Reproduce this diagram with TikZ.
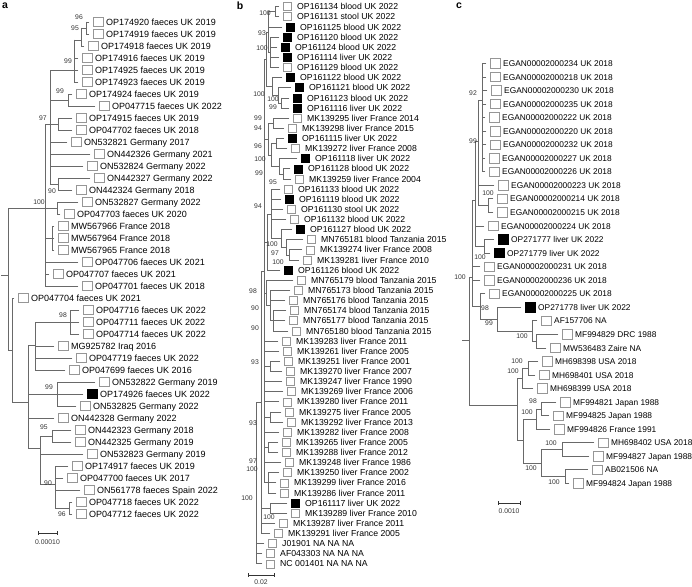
\documentclass[tikz,border=0pt]{standalone}
\usepackage{fontspec}
\newfontfamily\lsans{Liberation Sans}
\definecolor{brc}{RGB}{105,105,105}
\definecolor{bxc}{RGB}{150,150,150}
\newcounter{lfc}
\newcounter{bsc}
\def\bsz{9}\def\txo{13}\def\fsz{8.2}
\newcommand{\hln}[3]{\draw[br] (#1,#3) -- (#2,#3);}
\newcommand{\vln}[3]{\draw[br] (#1,#2) -- (#1,#3);}
\newcommand{\leafn}[5]{%
  \stepcounter{lfc}%
  \pgfmathsetmacro\tipx{#3-4}%
  \draw[br] (#1,#2) -- (\tipx,#2);
  \node[#5] (bx\arabic{lfc}) at (#3,#2) {};
  \node[lab] (tx\arabic{lfc}) at (#3+\txo,#2+3.1) {#4};}
\newcommand{\bsv}[3]{\stepcounter{bsc}\node[bsl] (bs\arabic{bsc}) at (#1,#2) {#3};}
\begin{document}
\begin{tikzpicture}[x=1pt,y=-1pt,
  br/.style={draw=brc, line width=0.8pt, line cap=rect},
  ob/.style={draw=bxc, line width=0.6pt, minimum size=\bsz pt, inner sep=0pt, anchor=west},
  fb/.style={ob, fill=black, draw=black},
  lab/.style={font=\lsans\fontsize{\fsz}{\fsz}\selectfont, anchor=base west, inner sep=0pt},
  bsl/.style={font=\lsans\fontsize{6.8}{7.5}\selectfont, inner sep=0pt, text=black!80},
  sb/.style={draw=black!80, line width=0.7pt},
  pl/.style={font=\lsans\bfseries\fontsize{10.5}{11}\selectfont, inner sep=0pt}]
\useasboundingbox (0,0) rectangle (692,586);
% ================= panel a =================
\node[pl] (pla) at (5,6) {a};
\def\bsz{9.5}\def\txo{13}\def\fsz{9.0}
\hln{1}{8}{275}
\vln{8}{208}{350}
\hln{8}{45}{208}
\vln{45}{124}{286}
\hln{45}{50}{124}
\vln{50}{70}{184}
\hln{50}{74}{70}
\vln{74}{40}{82}
\hln{74}{81}{40}
\vln{81}{28}{46}
\hln{81}{86}{28}
\vln{86}{22}{34}
\leafn{86}{22}{93}{OP174920 faeces UK 2019}{ob}
\leafn{86}{34}{93}{OP174919 faeces UK 2019}{ob}
\leafn{81}{46}{88}{OP174918 faeces UK 2019}{ob}
\leafn{74}{58}{82}{OP174916 faeces UK 2019}{ob}
\leafn{74}{70}{82}{OP174925 faeces UK 2019}{ob}
\leafn{74}{82}{82}{OP174923 faeces UK 2019}{ob}
\hln{50}{68}{100}
\vln{68}{94}{106}
\leafn{68}{94}{76}{OP174924 faeces UK 2019}{ob}
\leafn{68}{106}{99}{OP047715 faeces UK 2022}{ob}
\hln{50}{58}{124}
\vln{58}{118}{130}
\leafn{58}{118}{76}{OP174915 faeces UK 2019}{ob}
\leafn{58}{130}{76}{OP047702 faeces UK 2018}{ob}
\leafn{50}{142}{71}{ON532821 Germany 2017}{ob}
\leafn{50}{154}{94}{ON442326 Germany 2021}{ob}
\leafn{50}{166}{87}{ON532824 Germany 2022}{ob}
\hln{50}{58}{184}
\vln{58}{178}{190}
\leafn{58}{178}{94}{ON442327 Germany 2022}{ob}
\leafn{58}{190}{76}{ON442324 Germany 2018}{ob}
\hln{45}{57}{208}
\vln{57}{202}{214}
\leafn{57}{202}{82}{ON532827 Germany 2022}{ob}
\leafn{57}{214}{64}{OP047703 faeces UK 2020}{ob}
\hln{45}{52}{238}
\vln{52}{226}{250}
\leafn{52}{226}{58}{MW567966 France 2018}{ob}
\leafn{52}{238}{58}{MW567964 France 2018}{ob}
\leafn{52}{250}{58}{MW567965 France 2018}{ob}
\leafn{45}{262}{82}{OP047706 faeces UK 2021}{ob}
\leafn{45}{274}{53}{OP047707 faeces UK 2021}{ob}
\leafn{45}{286}{82}{OP047701 faeces UK 2018}{ob}
\hln{8}{12}{350}
\vln{12}{298}{402}
\leafn{12}{298}{18}{OP047704 faeces UK 2021}{ob}
\hln{12}{28}{402}
\vln{28}{345}{448}
\hln{28}{35}{345}
\vln{35}{322}{370}
\hln{35}{70}{322}
\vln{70}{310}{334}
\leafn{70}{310}{83}{OP047716 faeces UK 2022}{ob}
\leafn{70}{322}{83}{OP047711 faeces UK 2022}{ob}
\leafn{70}{334}{83}{OP047714 faeces UK 2022}{ob}
\leafn{35}{346}{58}{MG925782 Iraq 2016}{ob}
\leafn{35}{358}{76}{OP047719 faeces UK 2022}{ob}
\leafn{35}{370}{69}{OP047699 faeces UK 2016}{ob}
\hln{28}{57}{394}
\vln{57}{382}{406}
\leafn{57}{382}{99}{ON532822 Germany 2019}{ob}
\leafn{57}{394}{87}{OP174926 faeces UK 2022}{fb}
\leafn{57}{406}{80}{ON532825 Germany 2022}{ob}
\leafn{28}{418}{58}{ON442328 Germany 2022}{ob}
\hln{28}{40}{448}
\vln{40}{436}{484}
\hln{40}{52}{436}
\vln{52}{430}{442}
\leafn{52}{430}{75}{ON442323 Germany 2018}{ob}
\leafn{52}{442}{75}{ON442325 Germany 2019}{ob}
\leafn{40}{454}{87}{ON532823 Germany 2019}{ob}
\hln{40}{55}{484}
\vln{55}{466}{508}
\leafn{55}{466}{72}{OP174917 faeces UK 2019}{ob}
\leafn{55}{478}{67}{OP047700 faeces UK 2017}{ob}
\leafn{55}{490}{84}{ON561778 faeces Spain 2022}{ob}
\hln{55}{69}{508}
\vln{69}{502}{514}
\leafn{69}{502}{76}{OP047718 faeces UK 2022}{ob}
\leafn{69}{514}{76}{OP047712 faeces UK 2022}{ob}
\bsv{79}{17}{96}\bsv{75}{28}{95}\bsv{68}{61}{99}\bsv{60}{91}{99}
\bsv{43}{118}{97}\bsv{52}{191}{90}\bsv{39}{202}{100}\bsv{63}{315}{98}
\bsv{49}{387}{99}\bsv{44}{427}{95}\bsv{48}{483}{90}\bsv{62}{514}{96}
\draw[sb] (38,531) -- (38,535) (38,533) -- (57,533) (57,531) -- (57,535);
\node[bsl] (sba) at (47.5,542) {0.00010};
% ================= panel b =================
\node[pl] (plb) at (240,6) {b};
\def\bsz{8}\def\txo{14}\def\fsz{8.7}
\vln{256}{402}{563.8}
\leafn{256}{543.6}{268}{J01901 NA NA NA}{ob}
\leafn{256}{553.7}{266}{AF043303 NA NA NA}{ob}
\leafn{256}{563.8}{266}{NC 001401 NA NA NA}{ob}
\hln{256}{261}{402}
\vln{261}{271}{533.5}
\hln{261}{270}{508.2}
\vln{270}{503.1}{513.2}
\leafn{270}{503.1}{291}{OP161117 liver UK 2022}{fb}
\leafn{270}{513.2}{291}{MK139289 liver France 2010}{ob}
\leafn{261}{523.3}{279}{MK139287 liver France 2011}{ob}
\leafn{261}{533.5}{274}{MK139291 liver France 2005}{ob}
\hln{261}{264}{271}
\vln{264}{59}{482.8}
% G1
\vln{275}{6.7}{16.8}
\leafn{275}{6.7}{283}{OP161134 blood UK 2022}{ob}
\leafn{275}{16.8}{283}{OP161131 stool UK 2022}{ob}
\vln{268}{11.8}{52.3}
\hln{268}{275}{11.8}
\leafn{268}{27.0}{286}{OP161125 blood UK 2022}{fb}
\hln{268}{270}{52.3}
\vln{270}{37.1}{67.5}
\leafn{270}{37.1}{283}{OP161120 blood UK 2022}{fb}
\leafn{270}{47.2}{281}{OP161124 blood UK 2022}{fb}
\leafn{270}{57.4}{283}{OP161114 liver UK 2022}{fb}
\leafn{270}{67.5}{283}{OP161129 blood UK 2022}{ob}
\vln{266}{32}{86}
\hln{266}{268}{32}
\hln{266}{272}{86}
\hln{264}{266}{59}
\vln{272}{77.6}{95}
\leafn{272}{77.6}{286}{OP161122 blood UK 2022}{fb}
\hln{272}{278}{95}
\vln{278}{87.7}{103}
\leafn{278}{87.7}{295}{OP161121 blood UK 2022}{fb}
\hln{278}{281}{103}
\vln{281}{97.9}{108.0}
\leafn{281}{97.9}{293}{OP161123 blood UK 2022}{fb}
\leafn{281}{108.0}{293}{OP161116 liver UK 2022}{fb}
% F
\vln{273}{118.1}{128.3}
\leafn{273}{118.1}{293}{MK139295 liver France 2014}{ob}
\leafn{273}{128.3}{288}{MK139298 liver France 2015}{ob}
\vln{276}{138.4}{148.5}
\leafn{276}{138.4}{288}{OP161115 liver UK 2022}{fb}
\leafn{276}{148.5}{291}{MK139272 liver France 2008}{ob}
\vln{279}{158.7}{173.9}
\leafn{279}{158.7}{301}{OP161118 liver UK 2022}{fb}
\hln{279}{283}{173.9}
\vln{283}{168.8}{178.9}
\leafn{283}{168.8}{294}{OP161128 blood UK 2022}{fb}
\leafn{283}{178.9}{295}{MK139259 liver France 2004}{ob}
\vln{271}{143.5}{166.3}
\hln{271}{276}{143.5}
\hln{271}{279}{166.3}
\vln{268}{123.2}{155}
\hln{268}{273}{123.2}
\hln{268}{271}{155}
\hln{264}{268}{139}
% H
\vln{271}{189.0}{238.5}
\leafn{271}{189.0}{284}{OP161133 blood UK 2022}{ob}
\leafn{271}{199.2}{285}{OP161119 blood UK 2022}{fb}
\leafn{271}{209.3}{287}{OP161130 stool UK 2022}{ob}
\leafn{271}{219.4}{290}{OP161132 blood UK 2022}{ob}
\hln{271}{281}{238.5}
\vln{281}{229.6}{247.3}
\leafn{281}{229.6}{296}{OP161127 blood UK 2022}{fb}
\hln{281}{286}{247.3}
\vln{286}{239.7}{254.9}
\leafn{286}{239.7}{307}{MN765181 blood Tanzania 2015}{ob}
\hln{286}{289}{254.9}
\vln{289}{249.8}{260.0}
\leafn{289}{249.8}{306}{MK139274 liver France 2008}{ob}
\leafn{289}{260.0}{303}{MK139281 liver France 2010}{ob}
\vln{267}{214}{270.1}
\hln{267}{271}{214}
\leafn{267}{270.1}{284}{OP161126 blood UK 2022}{fb}
\hln{264}{267}{242}
% J
\vln{266}{280.2}{305.5}
\leafn{266}{280.2}{297}{MN765179 blood Tanzania 2015}{ob}
\hln{266}{270}{305.5}
\vln{270}{290.3}{320.7}
\leafn{270}{290.3}{294}{MN765173 blood Tanzania 2015}{ob}
\leafn{270}{300.5}{289}{MN765176 blood Tanzania 2015}{ob}
\hln{270}{273}{320.7}
\vln{273}{310.6}{330.9}
\leafn{273}{310.6}{290}{MN765174 blood Tanzania 2015}{ob}
\leafn{273}{320.7}{289}{MN765177 blood Tanzania 2015}{ob}
\leafn{273}{330.9}{292}{MN765180 blood Tanzania 2015}{ob}
\hln{264}{266}{292.9}
% French comb
\leafn{264}{341.0}{282}{MK139283 liver France 2011}{ob}
\leafn{264}{351.1}{283}{MK139261 liver France 2005}{ob}
\hln{264}{270}{366.4}
\vln{270}{361.3}{371.4}
\leafn{270}{361.3}{284}{MK139251 liver France 2001}{ob}
\leafn{270}{371.4}{286}{MK139270 liver France 2007}{ob}
\leafn{264}{381.5}{286}{MK139247 liver France 1990}{ob}
\leafn{264}{391.6}{287}{MK139269 liver France 2006}{ob}
\leafn{264}{401.8}{283}{MK139280 liver France 2011}{ob}
\hln{264}{270}{417}
\vln{270}{411.9}{422.0}
\leafn{270}{411.9}{285}{MK139275 liver France 2005}{ob}
\leafn{270}{422.0}{287}{MK139292 liver France 2013}{ob}
\leafn{264}{432.2}{283}{MK139282 liver France 2008}{ob}
\hln{264}{268}{447.4}
\vln{268}{442.3}{452.4}
\leafn{268}{442.3}{282}{MK139265 liver France 2005}{ob}
\leafn{268}{452.4}{282}{MK139288 liver France 2012}{ob}
\leafn{264}{462.5}{285}{MK139248 liver France 1986}{ob}
\hln{264}{268}{482.8}
\vln{268}{472.7}{492.9}
\leafn{268}{472.7}{283}{MK139250 liver France 2002}{ob}
\leafn{268}{482.8}{280}{MK139299 liver France 2016}{ob}
\leafn{268}{492.9}{280}{MK139286 liver France 2011}{ob}
\bsv{265}{13}{100}\bsv{262}{33}{93}\bsv{262}{48}{100}\bsv{259}{94}{100}
\bsv{273}{99}{100}\bsv{273}{107}{99}\bsv{258}{118}{99}\bsv{258}{128}{94}
\bsv{258}{146}{96}\bsv{260}{159}{100}\bsv{259}{173}{99}\bsv{273}{182}{95}
\bsv{258}{206}{94}\bsv{272}{244}{100}\bsv{275}{253}{97}\bsv{278}{262}{100}
\bsv{253}{291}{98}\bsv{255}{308}{90}\bsv{255}{328}{90}\bsv{255}{362}{93}
\bsv{253}{423}{93}\bsv{253}{461}{97}\bsv{252}{469}{100}\bsv{247}{498}{100}
\bsv{269}{517}{100}
\draw[sb] (248,573) -- (248,577) (248,575) -- (274,575) (274,573) -- (274,577);
\node[bsl] (sbb) at (261,582.5) {0.02};
% ================= panel c =================
\node[pl] (plc) at (459,6) {c};
\def\bsz{9.5}\def\txo{13}\def\fsz{8.35}
\vln{482}{63.3}{171.7}
\leafn{482}{63.3}{490}{EGAN00002000234 UK 2018}{ob}
\leafn{482}{76.9}{490}{EGAN00002000218 UK 2018}{ob}
\leafn{482}{90.4}{491}{EGAN00002000230 UK 2018}{ob}
\leafn{482}{104.0}{490}{EGAN00002000235 UK 2018}{ob}
\leafn{482}{117.5}{489}{EGAN00002000222 UK 2018}{ob}
\leafn{482}{131.1}{490}{EGAN00002000220 UK 2018}{ob}
\leafn{482}{144.6}{490}{EGAN00002000232 UK 2018}{ob}
\leafn{482}{158.2}{489}{EGAN00002000227 UK 2018}{ob}
\leafn{482}{171.7}{489}{EGAN00002000226 UK 2018}{ob}
\vln{478}{100}{205.6}
\hln{478}{482}{100}
\leafn{478}{185.3}{498}{EGAN00002000223 UK 2018}{ob}
\hln{478}{488}{205.6}
\vln{488}{198.8}{212.4}
\leafn{488}{198.8}{497}{EGAN00002000214 UK 2018}{ob}
\leafn{488}{212.4}{497}{EGAN00002000215 UK 2018}{ob}
\vln{475}{141}{246.3}
\hln{475}{478}{141}
\leafn{475}{225.9}{488}{EGAN00002000224 UK 2018}{ob}
\hln{475}{484}{246.3}
\vln{484}{239.5}{253.0}
\leafn{484}{239.5}{498}{OP271777 liver UK 2022}{fb}
\leafn{484}{253.0}{494}{OP271779 liver UK 2022}{fb}
\vln{472}{200}{306}
\hln{472}{475}{200}
\leafn{472}{266.6}{484}{EGAN00002000231 UK 2018}{ob}
\leafn{472}{280.1}{484}{EGAN00002000236 UK 2018}{ob}
\hln{472}{480}{306}
\vln{480}{293.7}{319}
\leafn{480}{293.7}{489}{EGAN00002000225 UK 2018}{ob}
\hln{480}{497}{319}
\vln{497}{307.2}{331}
\leafn{497}{307.2}{525}{OP271778 liver UK 2022}{fb}
\hln{497}{532}{331}
\vln{532}{320.8}{341.1}
\leafn{532}{320.8}{541}{AF157706 NA}{ob}
\hln{532}{536}{341.1}
\vln{536}{334.3}{347.9}
\leafn{536}{334.3}{562}{MF994829 DRC 1988}{ob}
\leafn{536}{347.9}{550}{MW536483 Zaire NA}{ob}
% root c
\hln{462}{469}{340}
\vln{469}{277}{405}
\hln{469}{472}{277}
\hln{469}{517}{405}
\vln{517}{378}{440}
\hln{517}{522}{378}
\vln{522}{368.2}{388.5}
\hln{522}{528}{368.2}
\vln{528}{361.4}{375.0}
\leafn{528}{361.4}{542}{MH698398 USA 2018}{ob}
\leafn{528}{375.0}{539}{MH698401 USA 2018}{ob}
\leafn{522}{388.5}{537}{MH698399 USA 2018}{ob}
\hln{517}{523}{440}
\vln{523}{419}{463}
\hln{523}{536}{419}
\vln{536}{408.9}{429.2}
\hln{536}{541}{408.9}
\vln{541}{402.1}{415.6}
\leafn{541}{402.1}{560}{MF994821 Japan 1988}{ob}
\leafn{541}{415.6}{553}{MF994825 Japan 1988}{ob}
\leafn{536}{429.2}{554}{MF994826 France 1991}{ob}
\hln{523}{541}{463}
\vln{541}{449.5}{476.6}
\hln{541}{562}{449.5}
\vln{562}{442.7}{456.3}
\leafn{562}{442.7}{598}{MH698402 USA 2018}{ob}
\leafn{562}{456.3}{593}{MF994827 Japan 1988}{ob}
\hln{541}{565}{476.6}
\vln{565}{469.8}{483.4}
\leafn{565}{469.8}{592}{AB021506 NA}{ob}
\leafn{565}{483.4}{573}{MF994824 Japan 1988}{ob}
\bsv{473}{93}{92}\bsv{473}{141}{99}\bsv{488}{193}{100}\bsv{480}{257}{100}
\bsv{460}{277}{100}\bsv{485}{308}{98}\bsv{489}{323}{99}\bsv{522}{336}{100}
\bsv{517}{361}{100}\bsv{513}{371}{100}\bsv{533}{401}{98}\bsv{527}{412}{100}
\bsv{551}{443}{100}\bsv{531}{468}{100}\bsv{554}{482}{100}
\draw[sb] (498,501) -- (498,505) (498,503) -- (520,503) (520,501) -- (520,505);
\node[bsl] (sbc) at (509,511) {0.0010};
\end{tikzpicture}
\end{document}
